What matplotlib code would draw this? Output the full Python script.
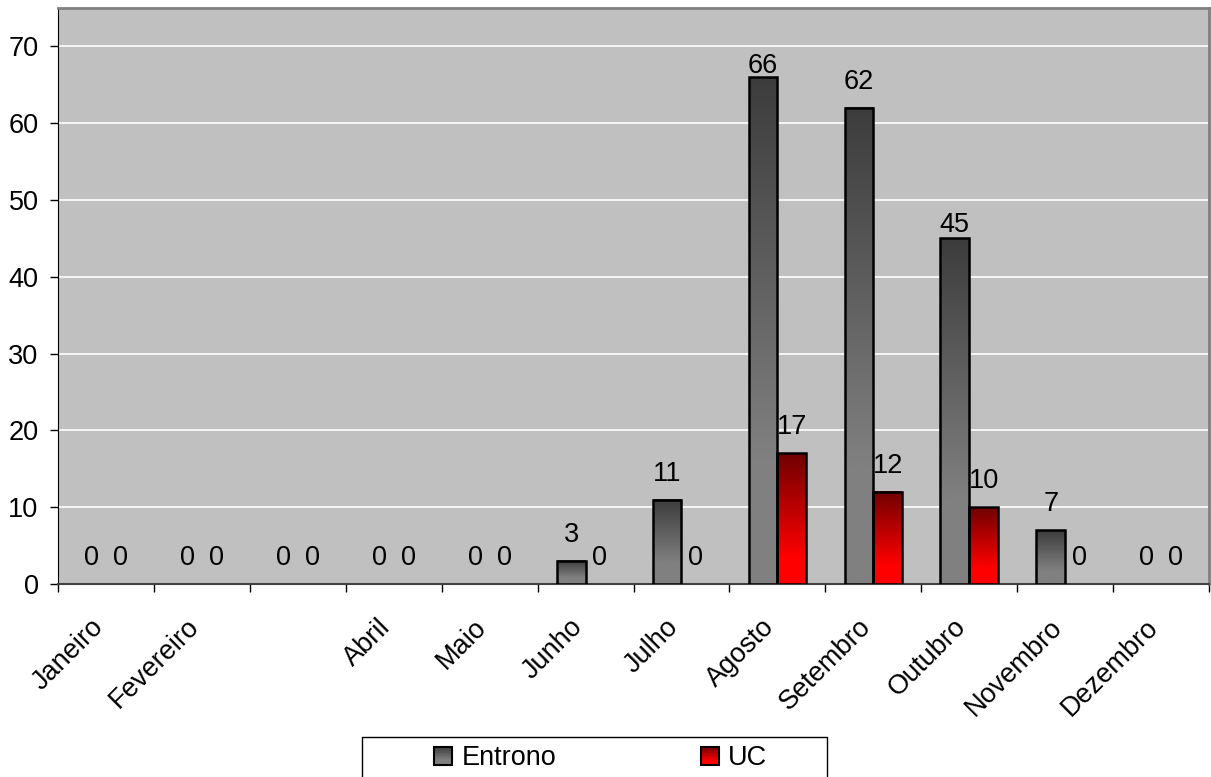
import numpy as np
import matplotlib.pyplot as plt
from matplotlib.colors import LinearSegmentedColormap
from matplotlib.patches import Rectangle
from matplotlib.legend_handler import HandlerPatch
import matplotlib.transforms as mtransforms

plt.rcParams['font.family'] = ['Liberation Sans', 'DejaVu Sans']

months = ['Janeiro', 'Fevereiro', '', 'Abril', 'Maio', 'Junho', 'Julho',
          'Agosto', 'Setembro', 'Outubro', 'Novembro', 'Dezembro']
entrono = [0, 0, 0, 0, 0, 3, 11, 66, 62, 45, 7, 0]
uc = [0, 0, 0, 0, 0, 0, 0, 17, 12, 10, 0, 0]

FS = 19.5

# gradients, top colour -> bottom colour
gray_cmap = LinearSegmentedColormap.from_list('g', [(0, '#3c3c3c'), (0.75, '#808080'), (1, '#808080')])
red_cmap = LinearSegmentedColormap.from_list('r', [(0, '#700000'), (0.8, '#ff0000'), (1, '#ff0000')])

fig = plt.figure(figsize=(12.11, 7.77), dpi=100)
ax = fig.add_axes([58 / 1211, 1 - 584 / 777, 1151 / 1211, 576 / 777])
ax.set_facecolor('#c0c0c0')

x = np.arange(len(months))
w = 0.3

grad = np.linspace(0, 1, 256).reshape(-1, 1)


def draw_bars(xs, vals, cmap):
    bars = ax.bar(xs, vals, w, facecolor='none', edgecolor='black', linewidth=1.8, zorder=4)
    for b in bars:
        h = b.get_height()
        if h <= 0:
            b.set_edgecolor('none')
            continue
        ax.imshow(grad, cmap=cmap, aspect='auto', zorder=3,
                  extent=[b.get_x(), b.get_x() + b.get_width(), 0, h])
    return bars


b1 = draw_bars(x - w / 2, entrono, gray_cmap)
b2 = draw_bars(x + w / 2, uc, red_cmap)
ax.set_xlim(-0.5, len(months) - 0.5)
ax.set_ylim(0, 75)

# value labels (Excel nudged a couple of them down)
special = {(7, 0): 11, (9, 0): 13}
for k, bars in enumerate((b1, b2)):
    for i, b in enumerate(bars):
        h = b.get_height()
        off = special.get((i, k), 26) * 72 / 100
        ax.annotate(str(int(h)), (b.get_x() + b.get_width() / 2, h),
                    xytext=(0, off), textcoords='offset points',
                    ha='center', va='center', fontsize=FS, zorder=5)

ax.set_yticks(np.arange(0, 71, 10))
ax.yaxis.grid(True, color='white', linewidth=1.2)
ax.set_axisbelow(True)
ax.tick_params(axis='y', length=6, width=1, labelsize=FS, pad=8)

ax.set_xticks(np.arange(-0.5, len(months), 1))
ax.set_xticklabels([])
ax.tick_params(axis='x', length=6, width=1)
off = mtransforms.ScaledTranslation(-16 / 100, -30 / 100, fig.dpi_scale_trans)
for i, m in enumerate(months):
    ax.text(i, 0, m, transform=ax.get_xaxis_transform() + off, rotation=45,
            rotation_mode='anchor', ha='right', va='top', fontsize=FS)

for s in ('top', 'right'):
    ax.spines[s].set_color('#808080')
    ax.spines[s].set_linewidth(2)
ax.spines['left'].set_color('black')
ax.spines['bottom'].set_color('#404040')
ax.spines['bottom'].set_linewidth(1.5)


class GradHandler(HandlerPatch):
    def __init__(self, cmap):
        super().__init__()
        self.cmap = cmap

    def create_artists(self, legend, orig_handle, xdescent, ydescent, width, height, fontsize, trans):
        s = min(width, height) * 0.95
        x0 = -xdescent + width - s
        y0 = -ydescent + (height - s) / 2
        arts = []
        n = 12
        for j in range(n):
            c = self.cmap(1 - (j + 0.5) / n)
            r = Rectangle((x0, y0 + s * j / n), s, s / n, facecolor=c, edgecolor='none', transform=trans)
            arts.append(r)
        arts.append(Rectangle((x0, y0), s, s, facecolor='none', edgecolor='black', linewidth=1.5, transform=trans))
        return arts


# legend box drawn by hand (Excel pads it much wider than matplotlib does)
fig.patches.append(Rectangle((362 / 1211, 1 - 790 / 777), 465 / 1211, 53 / 777,
                             transform=fig.transFigure, facecolor='white',
                             edgecolor='black', linewidth=1))

h1 = Rectangle((0, 0), 1, 1)
h2 = Rectangle((0, 0), 1, 1)
leg = fig.legend([h1, h2], ['Entrono', 'UC'], ncol=2, loc='center left',
                 bbox_to_anchor=(433 / 1211, 1 - 758 / 777), fontsize=FS,
                 handler_map={h1: GradHandler(gray_cmap), h2: GradHandler(red_cmap)},
                 frameon=False, handlelength=0.7, handletextpad=0.35,
                 columnspacing=5.3, borderpad=0, borderaxespad=0)

fig.savefig('out.png', dpi=100)
